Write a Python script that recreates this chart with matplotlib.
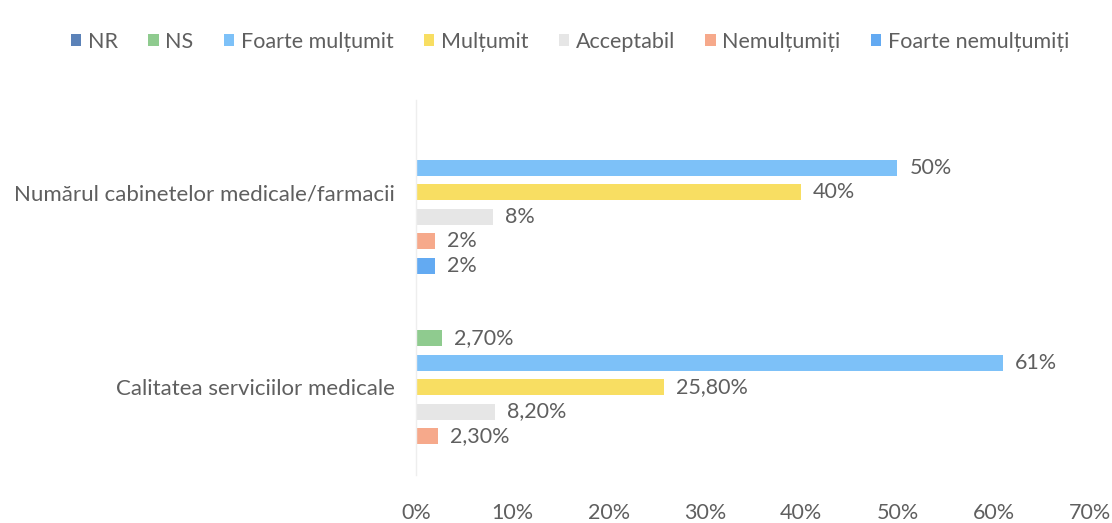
import matplotlib
matplotlib.use("Agg")
import matplotlib.pyplot as plt
import numpy as np
from matplotlib.patches import Patch

categories = ["Calitatea serviciilor medicale", "Numărul cabinetelor medicale/farmacii"]
series_names = ["NR", "NS", "Foarte mulțumit", "Mulțumit", "Acceptabil", "Nemulțumiți", "Foarte nemulțumiți"]
# values per series: [Calitatea, Numărul]
nr = [0.0, 0.0]
ns = [2.7, 0.0]
foarte_multumit = [61.0, 50.0]
multumit = [25.8, 40.0]
acceptabil = [8.2, 8.0]
nemultumiti = [2.3, 2.0]
foarte_nemultumiti = [0.0, 2.0]
labels_nr = ["", ""]
labels_ns = ["2,70%", ""]
labels_fm = ["61%", "50%"]
labels_m = ["25,80%", "40%"]
labels_a = ["8,20%", "8%"]
labels_n = ["2,30%", "2%"]
labels_fn = ["", "2%"]
xticks = [0, 10, 20, 30, 40, 50, 60, 70]
xtick_labels = ["0%", "10%", "20%", "30%", "40%", "50%", "60%", "70%"]

values = [nr, ns, foarte_multumit, multumit, acceptabil, nemultumiti, foarte_nemultumiti]
labels = [labels_nr, labels_ns, labels_fm, labels_m, labels_a, labels_n, labels_fn]
colors = ["#5B82B8", "#8FCB8F", "#7DC1F8", "#F8DE62", "#E6E6E6", "#F6A98B", "#63AAF2"]

plt.rcParams['font.family'] = ['Lato', 'DejaVu Sans']
txt = "#5F5F5F"

fig = plt.figure(figsize=(11.12, 5.23), dpi=100)
W, H = 1112, 523
ax = fig.add_axes([416 / W, 1 - 475 / H, (1090 - 416) / W, (475 - 100) / H])

slot = 24.5 / 195
bh = 16 / 195
ypos = np.arange(len(categories))
for i, (vals, labs, c) in enumerate(zip(values, labels, colors)):
    off = (3 - i) * slot
    ax.barh(ypos + off, vals, height=bh, color=c, edgecolor="none")
    for y, v, l in zip(ypos + off, vals, labs):
        if l:
            ax.annotate(l, (v, y), xytext=(12, 0), textcoords="offset pixels",
                        va="center", ha="left", fontsize=15.5, color=txt)

ax.set_xlim(0, 70)
ax.set_ylim(-0.451, 1.472)
ax.set_xticks(xticks)
ax.set_xticklabels(xtick_labels, fontsize=15.5, color=txt)
ax.set_yticks(ypos)
ax.set_yticklabels(categories, fontsize=16, color=txt)
ax.tick_params(axis="both", length=0)
ax.tick_params(axis="x", pad=20)
ax.tick_params(axis="y", pad=15)
for s in ["top", "right", "bottom"]:
    ax.spines[s].set_visible(False)
ax.spines["left"].set_color("#EEEEEE")
ax.spines["left"].set_linewidth(1.0)

handles = [Patch(facecolor=c, edgecolor="none") for c in colors]
fig.legend(handles, series_names, loc="center", bbox_to_anchor=(570 / W, 1 - 42 / H), ncol=7,
           frameon=False, fontsize=15.5, handlelength=0.5, handleheight=0.5, handletextpad=0.3,
           columnspacing=1.4, labelcolor=txt)

fig.savefig("out.png", dpi=100, facecolor="white")
